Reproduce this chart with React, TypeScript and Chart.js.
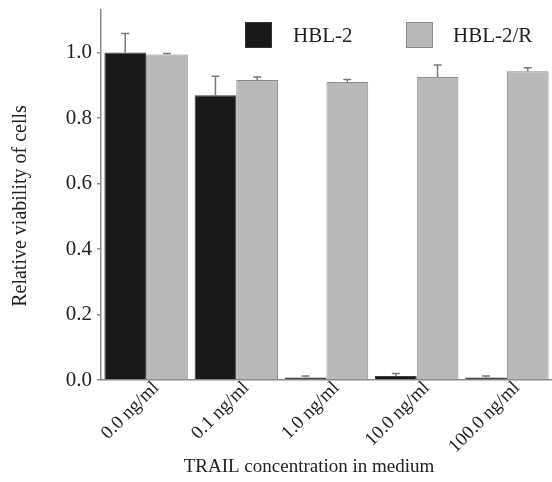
import React, { useEffect, useRef } from "react";
import { Chart, registerables } from "chart.js";

Chart.register(...registerables);

const categories = ["0.0 ng/ml", "0.1 ng/ml", "1.0 ng/ml", "10.0 ng/ml", "100.0 ng/ml"];
const hbl2Values = [1.0, 0.87, 0.008, 0.012, 0.008];
const hbl2Errors = [0.058, 0.058, 0.004, 0.008, 0.004];
const hbl2rValues = [0.994, 0.916, 0.91, 0.925, 0.943];
const hbl2rErrors = [0.003, 0.009, 0.008, 0.037, 0.011];
const seriesLabels = ["HBL-2", "HBL-2/R"];
const yTicks = [0, 0.2, 0.4, 0.6, 0.8, 1.0];
const xTitle = "TRAIL concentration in medium";
const yTitle = "Relative viability of cells";

const FONT = '"Liberation Serif", "Times New Roman", serif';
const BLACK = "#191919";
const GRAY = "#b9b9b9";

export default function App() {
  const ref = useRef<HTMLCanvasElement | null>(null);

  useEffect(() => {
    if (!ref.current) return;
    const errors = [hbl2Errors, hbl2rErrors];

    const errorBarPlugin = {
      id: "errorBars",
      afterDatasetsDraw(chart: any) {
        const ctx = chart.ctx;
        const yScale = chart.scales.y;
        chart.data.datasets.forEach((ds: any, i: number) => {
          const meta = chart.getDatasetMeta(i);
          meta.data.forEach((el: any, j: number) => {
            const v = ds.data[j];
            const top = yScale.getPixelForValue(v + errors[i][j]);
            const base = yScale.getPixelForValue(v);
            ctx.save();
            ctx.strokeStyle = "#7a7a7a";
            ctx.lineWidth = 1.5;
            ctx.beginPath();
            ctx.moveTo(el.x, base);
            ctx.lineTo(el.x, top);
            ctx.moveTo(el.x - 4, top);
            ctx.lineTo(el.x + 4, top);
            ctx.stroke();
            ctx.restore();
          });
        });
      },
    };

    const overlayPlugin = {
      id: "overlay",
      afterDraw(chart: any) {
        const ctx = chart.ctx;
        ctx.save();
        // legend
        const legendItems = [
          { x: 245, textX: 293, color: BLACK, border: "#333" },
          { x: 406, textX: 453, color: GRAY, border: "#8c8c8c" },
        ];
        legendItems.forEach((it, i) => {
          ctx.fillStyle = it.color;
          ctx.fillRect(it.x, 22, 27, 26);
          ctx.strokeStyle = it.border;
          ctx.lineWidth = 1;
          ctx.strokeRect(it.x + 0.5, 22.5, 26, 25);
          ctx.fillStyle = "#222";
          ctx.font = `21px ${FONT}`;
          ctx.textAlign = "left";
          ctx.textBaseline = "middle";
          ctx.fillText(seriesLabels[i], it.textX, 36);
        });
        // axis titles
        ctx.fillStyle = "#222";
        ctx.font = `19px ${FONT}`;
        ctx.textAlign = "center";
        ctx.textBaseline = "middle";
        ctx.fillText(xTitle, 309, 467);
        ctx.translate(21, 206);
        ctx.rotate(-Math.PI / 2);
        ctx.font = `20px ${FONT}`;
        ctx.fillText(yTitle, 0, 0);
        ctx.restore();
      },
    };

    const chart = new Chart(ref.current, {
      type: "bar",
      data: {
        labels: categories,
        datasets: [
          {
            label: seriesLabels[0],
            data: hbl2Values,
            backgroundColor: BLACK,
            borderColor: "#3a3a3a",
            borderWidth: 1,
            barPercentage: 1.0,
            categoryPercentage: 0.925,
          },
          {
            label: seriesLabels[1],
            data: hbl2rValues,
            backgroundColor: GRAY,
            borderColor: "#8c8c8c",
            borderWidth: 1,
            barPercentage: 1.0,
            categoryPercentage: 0.925,
          },
        ],
      },
      options: {
        animation: false,
        responsive: false,
        maintainAspectRatio: false,
        layout: { padding: { top: 10, right: 0, left: 0, bottom: 0 } },
        plugins: {
          legend: { display: false },
          tooltip: { enabled: false },
        },
        scales: {
          x: {
            grid: { display: false },
            border: { display: true, color: "#8a8a8a", width: 1.5 },
            ticks: {
              maxRotation: 45,
              minRotation: 45,
              color: "#222",
              font: { family: FONT, size: 19 },
              labelOffset: 10,
              padding: -11,
            },
            afterFit(scale: any) {
              scale.height = 102;
              scale.paddingRight = 0;
            },
          },
          y: {
            min: 0,
            max: 1.13,
            grid: { display: true, drawOnChartArea: false, drawTicks: true, tickLength: 4, color: "#8a8a8a", lineWidth: 1.5 },
            border: { display: true, color: "#8a8a8a", width: 1.5 },
            afterBuildTicks(scale: any) {
              scale.ticks = yTicks.map((v) => ({ value: v }));
            },
            ticks: {
              color: "#222",
              font: { family: FONT, size: 21 },
              padding: 5,
              callback: (v: any) => Number(v).toFixed(1),
            },
            afterFit(scale: any) {
              scale.width = 101;
              scale.paddingTop = 0;
              scale.paddingBottom = 0;
            },
          },
        },
      },
      plugins: [errorBarPlugin, overlayPlugin],
    });

    return () => chart.destroy();
  }, []);

  return (
    <div style={{ position: "absolute", left: 0, top: 0, width: 552, height: 482, background: "#fff" }}>
      <canvas ref={ref} width={552} height={482} style={{ display: "block" }} />
    </div>
  );
}
